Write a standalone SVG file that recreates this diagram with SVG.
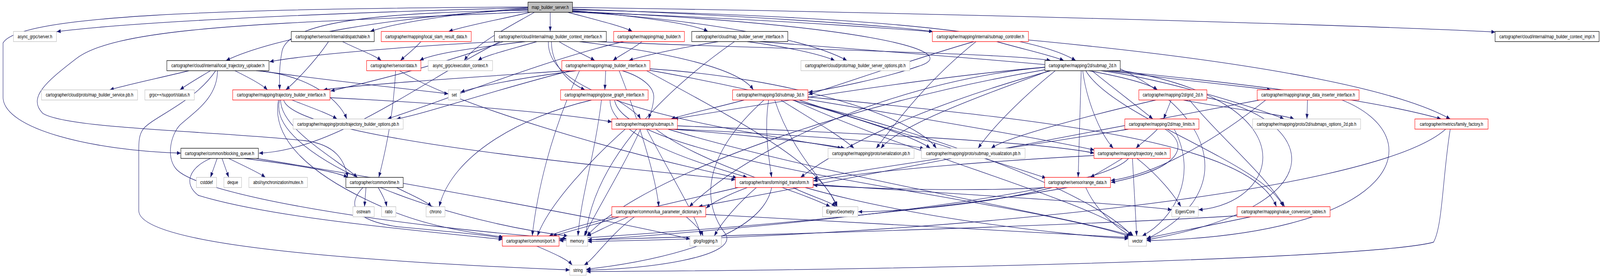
<svg xmlns="http://www.w3.org/2000/svg" width="5246" height="709" viewBox="0 0 5246 709" preserveAspectRatio="none" style="width:100vw;height:100vh;display:block">
<style>
.e{fill:none;stroke:#191970;stroke-width:1.3;marker-end:url(#a)}
rect{stroke-width:1.3}
.k{fill:#fff;stroke:#000}
.f{fill:#bfbfbf;stroke:#000}
.r{fill:#fff;stroke:#f00}
.g{fill:#fff;stroke:#bfbfbf}
text{font-family:"Liberation Sans",Arial,Helvetica,sans-serif;font-size:12.7px;text-anchor:middle;fill:#000}
</style>
<defs>
<marker id="a" markerWidth="13" markerHeight="10" refX="13" refY="5" orient="auto" markerUnits="userSpaceOnUse"><path d="M0,0 L13,5 L0,10 z" fill="#191970"/></marker>
</defs>
<rect x="0" y="0" width="5246" height="709" fill="#fff" stroke="none"/>
<g id="edges">
<path class="e" d="M1731,20 C1300,28 500,50 186,81"/>
<path class="e" d="M1752,31.5 C1690,60 1560,110 1522,155"/>
<path class="e" d="M1731,24 C1300,40 900,95 741,155"/>
<path class="e" d="M1804,31.5 L1804,80.5"/>
<path class="e" d="M1877,19 C2900,30 4400,62 4903,82"/>
<path class="e" d="M1877,27 C2100,42 2280,62 2321,80.5"/>
<path class="e" d="M1862,31.5 C1950,50 2045,68 2073,80.5"/>
<path class="e" d="M1731,21 C1500,33 1300,58 1214,80.5"/>
<path class="e" d="M1738,31.5 C1650,48 1525,66 1471,80.5"/>
<path class="e" d="M1877,23 C2400,38 2900,64 3059,81"/>
<path class="e" d="M1877,25 C2700,40 3350,70 3527,155"/>
<path class="e" d="M1877,29 C2800,60 3180,130 3010,170 C2900,200 2720,228 2651,236"/>
<path class="e" d="M1877,30 C2300,50 2650,100 2777,155"/>
<path class="e" d="M1731,18 C700,22 60,40 10,110 L10,250 C14,330 300,385 593,392"/>
<path class="e" d="M1877,31 C3000,60 4400,150 4755,304.5"/>
<path class="e" d="M1731,26 C1300,32 950,48 925,130 C915,170 916,200 917,230"/>
<path class="e" d="M1731,30 C1000,60 400,60 250,150 C150,210 90,250 140,290 C220,330 700,335 1000,360 C1100,370 1130,410 1140,454"/>
<path class="e" d="M620,181 C520,200 410,218 360,230"/>
<path class="e" d="M690,181 C650,200 612,217 590,230"/>
<path class="e" d="M770,181 C820,200 860,217 877,230"/>
<path class="e" d="M850,181 C1000,198 1300,225 1470,240"/>
<path class="e" d="M840,181 C1000,190 1110,250 1137,304.5"/>
<path class="e" d="M707,181 C640,260 500,300 470,330 C455,345 455,365 455,385 L455,540 C460,610 900,660 1868,691"/>
<path class="e" d="M713,181 C713,250 640,285 590,320 C560,345 545,400 575,430 C640,500 1300,580 1858,611"/>
<path class="e" d="M1077,106.5 C1040,150 975,205 937,230"/>
<path class="e" d="M1123,106.5 C1170,125 1230,142 1250,155"/>
<path class="e" d="M1380,106.5 C1360,125 1330,142 1313,155"/>
<path class="e" d="M1760,106.5 C1680,125 1590,142 1567,155"/>
<path class="e" d="M1722,106.5 C1600,118 1420,135 1376,155"/>
<path class="e" d="M1640,106.5 C1400,115 1000,140 884,158"/>
<path class="e" d="M1833,106.5 C1870,125 1930,145 1950,155"/>
<path class="e" d="M1808,106.5 C1808,165 1860,210 1918,230"/>
<path class="e" d="M1798,106.5 C1790,270 2400,330 2760,379.5"/>
<path class="e" d="M1900,106.5 C2150,130 2420,170 2470,230"/>
<path class="e" d="M1960,106.5 C2500,125 3300,135 3445,155"/>
<path class="e" d="M1640,106.5 C1400,200 1100,385 849,392"/>
<path class="e" d="M1650,106.5 C1450,165 1200,212 1084,233"/>
<path class="e" d="M2105,106.5 C2075,125 2025,145 2010,155"/>
<path class="e" d="M2045,106.5 C1800,150 1500,245 1270,304.5"/>
<path class="e" d="M2355,106.5 C2250,120 2120,140 2062,155"/>
<path class="e" d="M2450,106.5 C2600,122 2700,142 2737,155"/>
<path class="e" d="M2408,106.5 C2200,220 1950,400 1920,604"/>
<path class="e" d="M2490,106.5 C3200,150 4300,210 4725,304.5"/>
<path class="e" d="M3268,106.5 C3350,125 3450,142 3488,155"/>
<path class="e" d="M3193,106.5 C3000,150 2800,205 2651,242"/>
<path class="e" d="M3200,106.5 C3050,200 2950,300 2873,379.5"/>
<path class="e" d="M1297,181 C1290,300 1260,400 1242,454"/>
<path class="e" d="M1310,181 C1500,270 2000,385 2416,455"/>
<path class="e" d="M957,256 C1020,275 1080,292 1105,304.5"/>
<path class="e" d="M1082,250 C1400,262 1800,285 2006,312"/>
<path class="e" d="M920,256 C920,330 1100,405 1172,454"/>
<path class="e" d="M913,256 C890,350 1000,450 1300,545 C1450,590 1600,600 1650,607"/>
<path class="e" d="M930,256 C960,340 1700,405 2411,460"/>
<path class="e" d="M917,256 C870,390 1400,560 1862,604"/>
<path class="e" d="M1986,181 L1983,230"/>
<path class="e" d="M2040,181 C2100,195 2150,222 2143,255 C2140,280 2130,295 2127,304.5"/>
<path class="e" d="M1860,181 C1600,195 1200,215 1060,230"/>
<path class="e" d="M1890,181 C1700,200 1560,222 1510,236"/>
<path class="e" d="M1870,181 C1600,235 1400,290 1300,304.5"/>
<path class="e" d="M2131,176 C2600,200 3000,300 3070,379.5"/>
<path class="e" d="M2030,181 C2090,300 2150,450 2160,529"/>
<path class="e" d="M1900,181 C1800,350 1760,500 1745,604"/>
<path class="e" d="M2131,180 C3000,300 3600,500 3712,604"/>
<path class="e" d="M2120,181 C2400,300 2700,420 2742,529"/>
<path class="e" d="M2023,256 C2060,275 2092,292 2100,304.5"/>
<path class="e" d="M1940,256 C1700,300 1480,400 1440,529"/>
<path class="e" d="M2000,256 C2000,350 2300,420 2450,454"/>
<path class="e" d="M2015,256 C2050,420 3300,500 3706,606"/>
<path class="e" d="M1972,256 C1950,400 1905,500 1895,604"/>
<path class="e" d="M2440,256 C2350,275 2250,292 2200,304.5"/>
<path class="e" d="M2520,256 C2505,330 2520,400 2530,454"/>
<path class="e" d="M2560,256 C2650,300 2760,350 2800,379.5"/>
<path class="e" d="M2600,256 C2800,300 3000,350 3050,379.5"/>
<path class="e" d="M2620,256 C2900,330 3300,420 3430,456"/>
<path class="e" d="M2645,254 C3000,300 3450,360 3588,384"/>
<path class="e" d="M2649,248 C3300,300 4100,350 4185,529"/>
<path class="e" d="M2540,256 C2600,400 2725,480 2745,529"/>
<path class="e" d="M2505,256 C2300,400 2300,520 2380,600 C2420,660 2100,690 1923,691"/>
<path class="e" d="M2600,256 C3000,400 3600,520 3716,604"/>
<path class="e" d="M3570,181 C3700,200 3772,217 3795,230"/>
<path class="e" d="M3580,181 C3650,225 3750,285 3780,304.5"/>
<path class="e" d="M3550,181 C3560,245 3600,335 3650,379.5"/>
<path class="e" d="M3545,181 L3535,454"/>
<path class="e" d="M3610,181 C3800,200 4100,270 4210,304.5"/>
<path class="e" d="M3630,181 C3800,198 4050,220 4167,230"/>
<path class="e" d="M3440,181 C3200,250 2950,320 2888,379.5"/>
<path class="e" d="M3460,181 C3350,250 3250,330 3207,379.5"/>
<path class="e" d="M3430,172 C3000,200 2500,350 2260,529"/>
<path class="e" d="M3560,181 C3650,300 4150,420 4207,529"/>
<path class="e" d="M3445,181 C3100,255 2800,350 2625,454"/>
<path class="e" d="M3426,172 C3000,200 2400,280 2210,304.5"/>
<path class="e" d="M3673,176 C4000,300 4050,500 3759,612"/>
<path class="e" d="M3673,180 C4300,260 4200,520 3930,537"/>
<path class="e" d="M3430,178 C2800,260 2100,450 1924,604"/>
<path class="e" d="M3840,256 L3815,304.5"/>
<path class="e" d="M3880,256 C4000,275 4200,292 4243,304.5"/>
<path class="e" d="M3790,256 C3600,290 3300,350 3250,379.5"/>
<path class="e" d="M3900,256 C4000,350 4150,450 4212,529"/>
<path class="e" d="M3957,250 C4300,300 4420,520 3760,614"/>
<path class="e" d="M4287,256 L4285,304.5"/>
<path class="e" d="M4150,256 C4000,350 3800,445 3642,462"/>
<path class="e" d="M4130,256 C3500,350 2600,480 2290,529"/>
<path class="e" d="M4400,256 C4700,350 4600,600 3760,616"/>
<path class="e" d="M3795,330.5 C3770,352 3735,370 3725,379.5"/>
<path class="e" d="M3820,330.5 C3900,370 3880,430 3643,467"/>
<path class="e" d="M3700,330.5 C3400,370 2900,425 2667,457"/>
<path class="e" d="M3850,330.5 C3930,450 3850,560 3745,604"/>
<path class="e" d="M3680,405.5 C3640,425 3595,445 3575,454"/>
<path class="e" d="M3713,405.5 L3727,604"/>
<path class="e" d="M3728,405.5 C3800,450 3850,500 3872,529"/>
<path class="e" d="M3587,398 C3300,410 2900,432 2667,463"/>
<path class="e" d="M3700,405.5 C3600,500 2500,585 1927,614"/>
<path class="e" d="M3430,480 C3200,490 2900,485 2667,474"/>
<path class="e" d="M3500,480 C3000,550 2200,595 1834,613"/>
<path class="e" d="M3450,480 C3200,530 2900,542 2814,542"/>
<path class="e" d="M3560,480 C3600,550 3680,592 3710,604"/>
<path class="e" d="M2450,480 C2380,500 2330,522 2315,533"/>
<path class="e" d="M2600,480 C2650,500 2720,515 2740,529"/>
<path class="e" d="M2666,472 C3200,500 3700,522 3842,537"/>
<path class="e" d="M2530,480 C2500,600 2200,665 1923,689"/>
<path class="e" d="M2420,480 C2200,520 1900,572 1800,604"/>
<path class="e" d="M2480,480 C2420,520 2365,570 2342,604"/>
<path class="e" d="M2640,480 C3000,560 3500,602 3700,611"/>
<path class="e" d="M2030,555 C1950,575 1850,596 1812,604"/>
<path class="e" d="M2060,555 C2000,575 1950,596 1925,604"/>
<path class="e" d="M2080,555 C2000,600 1950,662 1915,678.5"/>
<path class="e" d="M2250,555 C2280,575 2300,592 2305,604"/>
<path class="e" d="M2314,549 C2900,570 3500,596 3700,608"/>
<path class="e" d="M1760,630 C1820,650 1862,665 1876,678.5"/>
<path class="e" d="M1200,480 L1195,529"/>
<path class="e" d="M1240,480 C1255,500 1265,516 1268,529"/>
<path class="e" d="M1300,480 C1350,500 1400,516 1415,529"/>
<path class="e" d="M1190,480 C1140,520 1150,562 1300,580 C1500,595 1600,602 1648,610"/>
<path class="e" d="M712,405.5 L690,454"/>
<path class="e" d="M728,405.5 L750,454"/>
<path class="e" d="M750,405.5 C800,425 850,442 870,454"/>
<path class="e" d="M800,405.5 C950,420 1100,438 1140,454"/>
<path class="e" d="M690,405.5 C620,430 600,470 650,500 C900,560 1400,592 1648,613"/>
<path class="e" d="M840,405.5 C1200,450 2000,562 2263,612"/>
<path class="e" d="M4100,555 C3950,580 3800,602 3760,610"/>
<path class="e" d="M4060,552 C3500,580 2300,605 1834,616"/>
<path class="e" d="M4740,330.5 C4500,500 3000,605 1927,618"/>
<path class="e" d="M4755,330.5 C4730,450 4730,580 4700,620 C4500,662 3000,692 1923,695"/>
<path class="e" d="M2050,330.5 C1950,400 1800,520 1762,604"/>
<path class="e" d="M2100,330.5 C2050,420 1955,540 1915,604"/>
<path class="e" d="M2200,330.5 C2400,342 2650,362 2770,379.5"/>
<path class="e" d="M2215,330.5 C2600,345 2950,362 3030,381"/>
<path class="e" d="M2221,322 C2800,340 3400,362 3588,392"/>
<path class="e" d="M2150,330.5 C2300,420 2600,482 2722,529"/>
<path class="e" d="M2120,330.5 C2200,450 2290,562 2298,604"/>
<path class="e" d="M2190,330.5 C2700,450 3500,552 3712,604"/>
</g>
<g id="nodes">
<g id="n-map_builder_server"><rect class="f" x="1731" y="5.5" width="146" height="26"/><text x="1804" y="23">map_builder_server.h</text></g>
<g id="n-server"><rect class="g" x="44" y="80.5" width="141" height="26"/><text x="114.5" y="98">async_grpc/server.h</text></g>
<g id="n-dispatchable"><rect class="k" x="955" y="80.5" width="272" height="26"/><text x="1091" y="98">cartographer/sensor/internal/dispatchable.h</text></g>
<g id="n-local_slam_result_data"><rect class="r" x="1250" y="80.5" width="295" height="26"/><text x="1397.5" y="98">cartographer/mapping/local_slam_result_data.h</text></g>
<g id="n-map_builder_context_interface"><rect class="k" x="1621" y="80.5" width="367" height="26"/><text x="1804.5" y="98">cartographer/cloud/internal/map_builder_context_interface.h</text></g>
<g id="n-map_builder"><rect class="r" x="2012" y="80.5" width="232" height="26"/><text x="2128" y="98">cartographer/mapping/map_builder.h</text></g>
<g id="n-map_builder_server_interface"><rect class="k" x="2268" y="80.5" width="315" height="26"/><text x="2425.5" y="98">cartographer/cloud/map_builder_server_interface.h</text></g>
<g id="n-submap_controller"><rect class="r" x="3057" y="80.5" width="315" height="26"/><text x="3214.5" y="98">cartographer/mapping/internal/submap_controller.h</text></g>
<g id="n-map_builder_context_impl"><rect class="k" x="4902" y="80.5" width="341" height="26"/><text x="5072.5" y="98">cartographer/cloud/internal/map_builder_context_impl.h</text></g>
<g id="n-local_trajectory_uploader"><rect class="k" x="547" y="155" width="335" height="26"/><text x="714.5" y="172.5">cartographer/cloud/internal/local_trajectory_uploader.h</text></g>
<g id="n-sensor_data"><rect class="r" x="1202" y="155" width="178" height="26"/><text x="1291" y="172.5">cartographer/sensor/data.h</text></g>
<g id="n-execution_context"><rect class="g" x="1404" y="155" width="211" height="26"/><text x="1509.5" y="172.5">async_grpc/execution_context.h</text></g>
<g id="n-map_builder_interface"><rect class="r" x="1842" y="155" width="289" height="26"/><text x="1986.5" y="172.5">cartographer/mapping/map_builder_interface.h</text></g>
<g id="n-map_builder_server_options"><rect class="g" x="2626" y="155" width="357" height="26"/><text x="2804.5" y="172.5">cartographer/cloud/proto/map_builder_server_options.pb.h</text></g>
<g id="n-submap_2d"><rect class="k" x="3426" y="155" width="247" height="26"/><text x="3549.5" y="172.5">cartographer/mapping/2d/submap_2d.h</text></g>
<g id="n-map_builder_service"><rect class="g" x="136" y="230" width="315" height="26"/><text x="293.5" y="247.5">cartographer/cloud/proto/map_builder_service.pb.h</text></g>
<g id="n-status"><rect class="g" x="475" y="230" width="162" height="26"/><text x="556" y="247.5">grpc++/support/status.h</text></g>
<g id="n-trajectory_builder_interface"><rect class="r" x="763" y="230" width="319" height="26"/><text x="922.5" y="247.5">cartographer/mapping/trajectory_builder_interface.h</text></g>
<g id="n-set"><rect class="g" x="1470" y="230" width="39" height="26"/><text x="1489.5" y="247.5">set</text></g>
<g id="n-pose_graph_interface"><rect class="r" x="1838" y="230" width="287" height="26"/><text x="1981.5" y="247.5">cartographer/mapping/pose_graph_interface.h</text></g>
<g id="n-submap_3d"><rect class="r" x="2402" y="230" width="247" height="26"/><text x="2525.5" y="247.5">cartographer/mapping/3d/submap_3d.h</text></g>
<g id="n-grid_2d"><rect class="r" x="3734" y="230" width="223" height="26"/><text x="3845.5" y="247.5">cartographer/mapping/2d/grid_2d.h</text></g>
<g id="n-range_data_inserter_interface"><rect class="r" x="4122" y="230" width="334" height="26"/><text x="4289" y="247.5">cartographer/mapping/range_data_inserter_interface.h</text></g>
<g id="n-trajectory_builder_options"><rect class="g" x="961" y="304.5" width="361" height="26"/><text x="1141.5" y="322">cartographer/mapping/proto/trajectory_builder_options.pb.h</text></g>
<g id="n-submaps"><rect class="r" x="2006" y="304.5" width="215" height="26"/><text x="2113.5" y="322">cartographer/mapping/submaps.h</text></g>
<g id="n-map_limits"><rect class="r" x="3688" y="304.5" width="243" height="26"/><text x="3809.5" y="322">cartographer/mapping/2d/map_limits.h</text></g>
<g id="n-submaps_options_2d"><rect class="g" x="4107" y="304.5" width="354" height="26"/><text x="4284" y="322">cartographer/mapping/proto/2d/submaps_options_2d.pb.h</text></g>
<g id="n-family_factory"><rect class="r" x="4639" y="304.5" width="240" height="26"/><text x="4759" y="322">cartographer/metrics/family_factory.h</text></g>
<g id="n-blocking_queue"><rect class="k" x="593" y="379.5" width="254" height="26"/><text x="720" y="397">cartographer/common/blocking_queue.h</text></g>
<g id="n-serialization"><rect class="g" x="2715" y="379.5" width="282" height="26"/><text x="2856" y="397">cartographer/mapping/proto/serialization.pb.h</text></g>
<g id="n-submap_visualization"><rect class="g" x="3021" y="379.5" width="340" height="26"/><text x="3191" y="397">cartographer/mapping/proto/submap_visualization.pb.h</text></g>
<g id="n-trajectory_node"><rect class="r" x="3587" y="379.5" width="250" height="26"/><text x="3712" y="397">cartographer/mapping/trajectory_node.h</text></g>
<g id="n-cstddef"><rect class="g" x="644" y="454" width="66" height="26"/><text x="677" y="471.5">cstddef</text></g>
<g id="n-deque"><rect class="g" x="734" y="454" width="58" height="26"/><text x="763" y="471.5">deque</text></g>
<g id="n-mutex"><rect class="g" x="816" y="454" width="192" height="26"/><text x="912" y="471.5">absl/synchronization/mutex.h</text></g>
<g id="n-time"><rect class="k" x="1134" y="454" width="188" height="26"/><text x="1228" y="471.5">cartographer/common/time.h</text></g>
<g id="n-rigid_transform"><rect class="r" x="2411" y="454" width="255" height="26"/><text x="2538.5" y="471.5">cartographer/transform/rigid_transform.h</text></g>
<g id="n-range_data"><rect class="r" x="3425" y="454" width="216" height="26"/><text x="3533" y="471.5">cartographer/sensor/range_data.h</text></g>
<g id="n-ostream"><rect class="g" x="1157" y="529" width="70" height="26"/><text x="1192" y="546.5">ostream</text></g>
<g id="n-ratio"><rect class="g" x="1251" y="529" width="47" height="26"/><text x="1274.5" y="546.5">ratio</text></g>
<g id="n-chrono"><rect class="g" x="1397" y="529" width="62" height="26"/><text x="1428" y="546.5">chrono</text></g>
<g id="n-lua_parameter_dictionary"><rect class="r" x="2006" y="529" width="308" height="26"/><text x="2160" y="546.5">cartographer/common/lua_parameter_dictionary.h</text></g>
<g id="n-eigen_geometry"><rect class="g" x="2697" y="529" width="116" height="26"/><text x="2755" y="546.5">Eigen/Geometry</text></g>
<g id="n-eigen_core"><rect class="g" x="3842" y="529" width="87" height="26"/><text x="3885.5" y="546.5">Eigen/Core</text></g>
<g id="n-value_conversion_tables"><rect class="r" x="4056" y="529" width="305" height="26"/><text x="4208.5" y="546.5">cartographer/mapping/value_conversion_tables.h</text></g>
<g id="n-port"><rect class="r" x="1647" y="604" width="186" height="26"/><text x="1740" y="621.5">cartographer/common/port.h</text></g>
<g id="n-memory"><rect class="g" x="1857" y="604" width="70" height="26"/><text x="1892" y="621.5">memory</text></g>
<g id="n-glog"><rect class="g" x="2262" y="604" width="103" height="26"/><text x="2313.5" y="621.5">glog/logging.h</text></g>
<g id="n-vector"><rect class="g" x="3700" y="604" width="59" height="26"/><text x="3729.5" y="621.5">vector</text></g>
<g id="n-string"><rect class="g" x="1868" y="678.5" width="54" height="26"/><text x="1895" y="696">string</text></g>
</g>
</svg>
